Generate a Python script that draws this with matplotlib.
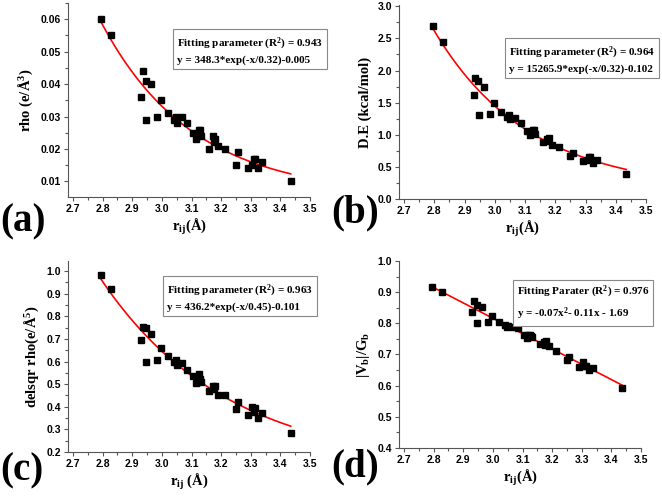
import numpy as np
import matplotlib
matplotlib.use("Agg")
import matplotlib.pyplot as plt
from matplotlib.ticker import MultipleLocator, FormatStrFormatter

plt.rcParams['font.family'] = ['Liberation Serif', 'DejaVu Serif']
plt.rcParams['mathtext.fontset'] = 'custom'
plt.rcParams['mathtext.rm'] = 'Liberation Serif'
plt.rcParams['mathtext.bf'] = 'Liberation Serif:bold'
plt.rcParams['mathtext.default'] = 'bf'

# bond distance r_ij (A), same set of contacts in every panel
r_ij = [2.795, 2.827, 2.930, 2.935, 2.945, 2.947, 2.963, 2.984, 2.996, 3.020,
        3.040, 3.048, 3.050, 3.068, 3.085, 3.105, 3.115, 3.120, 3.125, 3.128,
        3.132, 3.158, 3.173, 3.175, 3.180, 3.188, 3.212, 3.250, 3.258, 3.290,
        3.305, 3.310, 3.315, 3.325, 3.338, 3.435]

rho = [0.060, 0.055, 0.036, 0.044, 0.041, 0.029, 0.040, 0.030, 0.035, 0.031,
       0.029, 0.030, 0.028, 0.030, 0.028, 0.025, 0.023, 0.024, 0.026, 0.026,
       0.024, 0.020, 0.024, 0.022, 0.023, 0.021, 0.020, 0.015, 0.019, 0.014,
       0.015, 0.017, 0.017, 0.014, 0.016, 0.010]

de = [2.70, 2.44, 1.62, 1.89, 1.84, 1.30, 1.75, 1.32, 1.50, 1.36,
      1.28, 1.31, 1.24, 1.26, 1.19, 1.06, 0.99, 1.05, 1.08, 1.07,
      1.01, 0.89, 0.94, 0.90, 0.95, 0.84, 0.81, 0.67, 0.72, 0.59,
      0.61, 0.66, 0.65, 0.56, 0.60, 0.39]

delsqr = [0.983, 0.920, 0.695, 0.752, 0.750, 0.600, 0.724, 0.608, 0.658, 0.625,
          0.598, 0.606, 0.587, 0.593, 0.562, 0.536, 0.504, 0.526, 0.546, 0.525,
          0.508, 0.471, 0.490, 0.480, 0.494, 0.452, 0.450, 0.392, 0.423, 0.363,
          0.400, 0.377, 0.394, 0.352, 0.372, 0.284]

vg = [0.916, 0.900, 0.836, 0.871, 0.860, 0.800, 0.852, 0.803, 0.823, 0.803,
      0.794, 0.788, 0.793, 0.789, 0.784, 0.762, 0.754, 0.762, 0.763, 0.759,
      0.756, 0.733, 0.740, 0.731, 0.742, 0.727, 0.711, 0.682, 0.691, 0.660,
      0.677, 0.664, 0.662, 0.649, 0.656, 0.592]

labels = ['(a)', '(b)', '(c)', '(d)']
ylabels = ['rho (e/Å$^3$)', 'D.E (kcal/mol)', 'delsqr rho(e/Å$^5$)', '|V$_b$|/G$_b$']
xlabels = ['r$_{ij}$(Å)', 'r$_{ij}$(Å)', 'r$_{ij}$ (Å)', 'r$_{ij}$(Å)']
boxtext = ['Fitting parameter (R$^2$) = 0.943\ny = 348.3*exp(-x/0.32)-0.005',
           'Fitting parameter (R$^2$) = 0.964\ny = 15265.9*exp(-x/0.32)-0.102',
           'Fitting parameter (R$^2$) = 0.963\ny = 436.2*exp(-x/0.45)-0.101',
           'Fitting Parater (R$^2$) = 0.976\ny = -0.07x$^2$- 0.11x - 1.69']


def exp_fit(x, y):
    # y = A*exp(-x/t) + c, grid over t, least squares for A and c
    best = None
    for t in np.linspace(0.1, 1.5, 281):
        M = np.column_stack([np.exp(-x / t), np.ones_like(x)])
        coef, res, _, _ = np.linalg.lstsq(M, y, rcond=None)
        err = np.sum((M @ coef - y) ** 2)
        if best is None or err < best[0]:
            best = (err, t, coef)
    _, t, coef = best
    return lambda xx: coef[0] * np.exp(-xx / t) + coef[1]


fig = plt.figure(figsize=(6.62, 4.96), dpi=100)
W, H = 662.0, 496.0

# axes boxes in pixels: left, right, top, bottom
boxes = [(68, 310, 3, 197), (399, 646, 5, 199), (68, 310, 261, 452), (399, 641, 261, 448)]
ylims = [(0.0052, 0.065), (0.0, 3.02), (0.2, 1.045), (0.4, 1.0)]
ymaj = [0.01, 0.5, 0.1, 0.1]
yfmt = ['%.2f', '%.1f', '%.1f', '%.1f']
boxpos = [(177, 36), (509, 45), (167, 283), (517, 284)]
labpos = [(0, 222), (331, 213), (0, 471), (331, 467)]

x = np.array(r_ij)
series = [rho, de, delsqr, vg]

for i, y in enumerate(series):
    l, r, t, b = boxes[i]
    ax = fig.add_axes([l / W, 1 - b / H, (r - l) / W, (b - t) / H])
    y = np.array(y)
    xx = np.linspace(x.min(), x.max(), 200)
    if i < 3:
        f = exp_fit(x, y)
        ax.plot(xx, f(xx), color='red', lw=1.2, zorder=2)
    else:
        p = np.polyfit(x, y, 1)
        ax.plot(xx, np.polyval(p, xx), color='red', lw=1.2, zorder=2)
    ax.plot(x, y, 's', color='black', markersize=3.8, zorder=3)

    ax.set_xlim(2.683, 3.5)
    ax.set_ylim(*ylims[i])
    ax.xaxis.set_major_locator(MultipleLocator(0.1))
    ax.xaxis.set_minor_locator(MultipleLocator(0.05))
    ax.yaxis.set_major_locator(MultipleLocator(ymaj[i]))
    ax.yaxis.set_minor_locator(MultipleLocator(ymaj[i] / 2))
    ax.xaxis.set_major_formatter(FormatStrFormatter('%.1f'))
    ax.yaxis.set_major_formatter(FormatStrFormatter(yfmt[i]))
    for s in ['top', 'right']:
        ax.spines[s].set_visible(False)
    for s in ['left', 'bottom']:
        ax.spines[s].set_color('#555555')
        ax.spines[s].set_linewidth(0.8)
    ax.tick_params(which='both', direction='out', color='#555555', width=0.8)
    ax.tick_params(which='major', length=3, labelsize=7.5, pad=2)
    ax.tick_params(which='minor', length=2)
    for lab in ax.get_xticklabels() + ax.get_yticklabels():
        lab.set_fontfamily('Liberation Sans')
        lab.set_fontweight('bold')

    ax.set_ylabel(ylabels[i], fontsize=10.5, fontweight='bold', labelpad=4)
    ax.set_xlabel(xlabels[i], fontsize=10.5, fontweight='bold', labelpad=2)

    bx, by = boxpos[i]
    fig.text(bx / W, 1 - by / H, boxtext[i], fontsize=8, fontweight='bold',
             va='top', ha='left', linespacing=1.45,
             bbox=dict(boxstyle='square,pad=0.35', fc='white', ec='#888888', lw=0.8))

    lx, ly = labpos[i]
    fig.text(lx / W, 1 - ly / H, labels[i], fontsize=28, fontweight='bold',
             va='center', ha='left')

fig.savefig('out.png', dpi=100)
